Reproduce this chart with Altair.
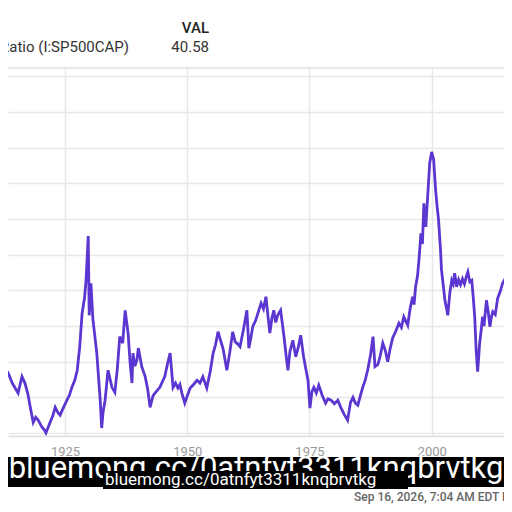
import altair as alt
import pandas as pd

# ---- data (year, CAPE value) ----
years = [1911.7, 1912.1, 1912.7, 1913.4, 1914.2, 1914.8, 1915.4, 1916.2, 1916.8, 1917.4,
         1917.9, 1918.5, 1919.0, 1919.5, 1920.3, 1920.7, 1921.1, 1921.9, 1922.5, 1923.0,
         1923.6, 1924.0, 1924.7, 1925.4, 1925.9, 1926.4, 1927.0, 1927.5, 1928.0, 1928.5,
         1929.0, 1929.3, 1929.6, 1929.75, 1929.95, 1930.3, 1930.7, 1931.5, 1932.2, 1932.5,
         1932.8, 1933.2, 1933.8, 1934.2, 1934.6, 1935.2, 1935.7, 1936.2, 1936.8, 1937.3,
         1937.9, 1938.3, 1938.7, 1938.9, 1939.3, 1939.7, 1940.0, 1940.7, 1941.4, 1941.9,
         1942.4, 1943.0, 1943.4, 1944.4, 1945.4, 1946.0, 1946.5, 1947.1, 1947.6, 1948.1,
         1948.5, 1948.9, 1949.5, 1950.0, 1950.6, 1951.3, 1952.0, 1952.6, 1953.2, 1953.6,
         1954.0, 1954.7, 1955.3, 1955.8, 1956.3, 1956.8, 1957.3, 1957.8, 1958.1, 1958.7,
         1959.3, 1959.8, 1960.3, 1960.8, 1961.5, 1962.2, 1962.6, 1963.0, 1963.4, 1964.0,
         1965.1, 1965.6, 1966.1, 1966.5, 1966.9, 1967.3, 1967.7, 1968.1, 1968.5, 1969.1,
         1969.8, 1970.2, 1970.6, 1971.0, 1971.6, 1972.2, 1972.7, 1973.2, 1973.8, 1974.2,
         1974.7, 1975.1, 1975.5, 1975.9, 1976.4, 1976.9, 1977.6, 1978.3, 1978.8, 1979.4,
         1980.1, 1980.8, 1981.4, 1982.1, 1982.8, 1983.4, 1983.9, 1984.4, 1984.9, 1985.4,
         1985.9, 1986.4, 1986.9, 1987.5, 1988.0, 1988.4, 1989.0, 1989.5, 1990.0, 1990.5,
         1991.0, 1991.5, 1992.0, 1992.6, 1993.3, 1993.8, 1994.3, 1995.1, 1995.6, 1996.1,
         1996.4, 1996.7, 1997.1, 1997.4, 1997.8, 1998.1, 1998.4, 1998.8, 1999.2, 1999.6,
         2000.0, 2000.4, 2000.8, 2001.1, 2001.4, 2001.8, 2002.0, 2002.4, 2002.7, 2003.0,
         2003.3, 2003.7, 2004.1, 2004.4, 2004.7, 2005.1, 2005.5, 2005.9, 2006.3, 2006.7,
         2007.1, 2007.4, 2007.8, 2008.2, 2008.5, 2008.8, 2009.1, 2009.4, 2009.8, 2010.2,
         2010.4, 2010.7, 2011.2, 2011.6, 2011.9, 2012.2, 2012.5, 2013.0, 2013.5, 2014.0,
         2014.5, 2015.0, 2015.3, 2015.8, 2016.4, 2016.9]
cape = [15.2, 13.8, 14.1, 13.4, 12.0, 11.3, 10.6, 12.9, 12.0, 10.5,
        8.6, 6.5, 7.2, 6.8, 5.8, 5.5, 5.0, 6.4, 7.4, 8.6,
        7.8, 7.5, 8.6, 9.6, 10.3, 11.4, 12.4, 13.8, 17.0, 21.8,
        24.0, 26.4, 30.5, 32.6, 21.5, 26.0, 21.0, 16.2, 9.6, 5.7,
        8.0, 9.6, 13.8, 12.6, 11.4, 10.7, 14.0, 18.5, 17.6, 22.2,
        19.0, 15.0, 12.0, 16.2, 14.4, 15.2, 16.9, 14.3, 12.9, 11.2,
        8.6, 10.2, 10.6, 11.4, 12.9, 14.8, 16.2, 11.4, 12.0, 11.3,
        11.8, 10.6, 9.2, 10.2, 11.3, 11.8, 12.4, 12.0, 12.9, 12.1,
        11.3, 13.6, 16.2, 17.4, 19.2, 18.0, 16.9, 15.0, 13.8, 16.3,
        19.2, 17.8, 17.5, 17.1, 19.5, 22.2, 16.9, 18.3, 19.9, 20.8,
        23.2, 22.4, 24.1, 21.5, 19.0, 21.0, 22.2, 20.5, 21.5, 22.2,
        18.5, 16.0, 13.8, 16.4, 18.0, 15.7, 17.0, 18.7, 15.7, 14.2,
        12.4, 8.5, 10.8, 11.4, 10.6, 11.7, 10.3, 9.2, 9.8, 9.6,
        9.1, 9.6, 8.6, 7.6, 6.8, 9.3, 10.0, 9.2, 8.9, 10.2,
        11.4, 12.4, 13.8, 16.0, 18.5, 14.3, 14.6, 15.9, 17.6, 16.6,
        15.0, 16.8, 18.3, 19.2, 20.4, 19.8, 21.3, 20.1, 22.5, 24.1,
        23.0, 25.5, 27.0, 29.3, 33.0, 31.5, 37.2, 33.9, 38.4, 42.9,
        44.4, 43.3, 39.1, 36.8, 34.9, 30.7, 27.9, 25.5, 23.6, 22.6,
        21.5, 24.6, 26.4, 25.9, 27.4, 25.5, 26.5, 25.8, 26.6, 25.9,
        27.0, 27.6, 26.2, 26.4, 24.0, 21.3, 16.5, 13.6, 17.5, 19.9,
        21.3, 20.0, 23.6, 21.8, 19.9, 21.2, 22.0, 21.6, 23.9, 24.8,
        26.0, 26.6, 27.2, 25.8, 26.0, 27.0]

x_ticks = [1925, 1950, 1975, 2000]
y_grid = [5, 10, 15, 20, 25, 30, 35, 40, 45, 50, 55]

series_title = "S&P 500 Shiller CAPE Ratio (I:SP500CAP)"
val_header = "VAL"
val_text = "40.58"
footer_text = "Sep 16, 2026, 7:04 AM EDT Powered by YCharts"
watermark = "bluemong.cc/0atnfyt3311knqbrvtkg"

df = pd.DataFrame({"year": years, "cape": cape})

W, H = 496, 368
FONT = "Roboto"

x = alt.X("year:Q",
          scale=alt.Scale(domain=[1913.34, 2014.79], nice=False, zero=False),
          axis=alt.Axis(values=x_ticks, format="d", title=None, grid=True,
                        gridColor="#e8e8e8", gridWidth=1.5, ticks=False,
                        domainColor="#dedede", domainWidth=1.5,
                        labelColor="#9a9a9a", labelFont=FONT, labelFontSize=13,
                        labelPadding=9))
y = alt.Y("cape:Q",
          scale=alt.Scale(domain=[4.58, 56.17], nice=False, zero=False),
          axis=alt.Axis(values=y_grid, labels=False, ticks=False, domain=False,
                        title=None, grid=True, gridColor="#e8e8e8", gridWidth=1.5))

line = alt.Chart(df).mark_line(color="#5c36d0", strokeWidth=2.8, clip=True).encode(x=x, y=y)

one = pd.DataFrame({"k": [0]})

top_rule = alt.Chart(one).mark_rule(color="#e2e2e2", strokeWidth=1.5).encode(
    x=alt.value(0), x2=alt.value(W), y=alt.value(0))

def txt(text, px, py, size, align, color, weight="normal"):
    return alt.Chart(one).mark_text(text=text, align=align, baseline="middle",
                                    font=FONT, fontSize=size, color=color,
                                    fontWeight=weight).encode(
        x=alt.value(px), y=alt.value(py))

header = txt(series_title, 121, -21, 15, "right", "#333333")
val_h = txt(val_header, 201, -40, 15, "right", "#222222", 500)
val_v = txt(val_text, 201, -21, 15, "right", "#333333")
footer = txt(footer_text, 346, 429, 12, "left", "#666666", 500)

band = alt.Chart(one).mark_rect(color="#000000").encode(
    x=alt.value(-8), x2=alt.value(W), y=alt.value(389), y2=alt.value(419))
wm_big = txt(watermark, 248, 401, 31, "center", "#ffffff")
small_box = alt.Chart(one).mark_rect(color="#000000").encode(
    x=alt.value(95), x2=alt.value(400), y=alt.value(403), y2=alt.value(421))
wm_small = txt(watermark, 97, 412, 17, "left", "#ffffff")

chart = alt.layer(line, top_rule, header, val_h, val_v, band, wm_big, small_box, wm_small, footer).properties(
    width=W, height=H,
    padding={"left": 0, "top": 60, "right": 0, "bottom": 68},
    autosize=alt.AutoSizeParams(type="none"),
    background="#ffffff",
).configure_view(strokeWidth=0)

chart.save("out.html", embed_options={"renderer": "svg", "actions": False})
